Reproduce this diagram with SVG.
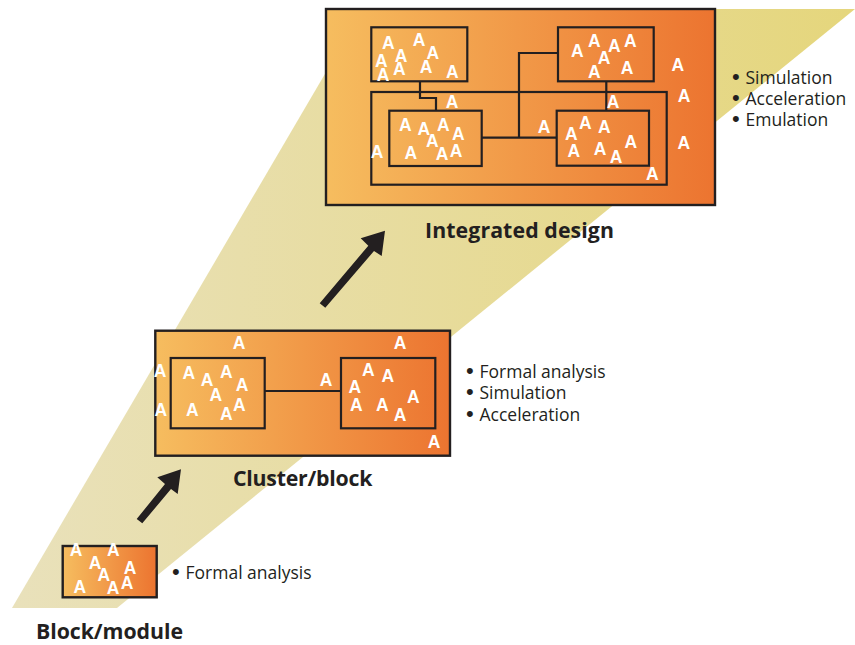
<svg xmlns="http://www.w3.org/2000/svg" width="855" height="645" viewBox="0 0 855 645">
<style>
.box{fill:none;stroke:#231f20;stroke-width:2.2}
.fill{fill:url(#o);stroke:#231f20;stroke-width:2.4}
.w{stroke:#231f20;stroke-width:2.2;fill:none}
.a{font:bold 17.5px "Liberation Sans",Arial,sans-serif;fill:#fff;text-anchor:middle}
.l{font:17.5px "Open Sans",sans-serif;fill:#231f20}
.bu{font:22px "Liberation Sans",Arial,sans-serif}
.t{font:bold 21.3px "Open Sans",sans-serif;fill:#231f20}
</style>
<defs>
<linearGradient id="o" x1="0" x2="1" y1="0" y2="0"><stop offset="0" stop-color="#f6bd5f"/><stop offset="1" stop-color="#ec7430"/></linearGradient>
<linearGradient id="b" x1="0" x2="1" y1="0" y2="0"><stop offset="0" stop-color="#e9e1bb"/><stop offset="1" stop-color="#e5d67c"/></linearGradient>
</defs>
<rect width="855" height="645" fill="#fff"/>
<polygon id="band" points="12,608 117,608 855,9 363,9" fill="url(#b)"/>
<g id="arrows" fill="#231f20">
<polygon points="136.700,519 142.300,523.300 171,489 177.700,494 181,469.300 157.300,477.300 165,484"/>
<polygon points="319.700,303.300 325.300,307.700 374,251 381.700,256 385,230.700 360.700,238.300 368.300,245.700"/>
</g>
<g id="block">
<rect class="fill" x="62.7" y="546" width="94" height="51.3"/>
<g class="a"><text x="76" y="555.7">A</text><text x="113.3" y="555.7">A</text><text x="95" y="569">A</text><text x="130" y="574">A</text><text x="103.7" y="580.7">A</text><text x="127" y="588.7">A</text><text x="113" y="594">A</text><text x="79.7" y="592.7">A</text></g>
<text class="l" y="579"><tspan class="bu" x="172">•</tspan><tspan x="185.500">Formal analysis</tspan></text>
<text class="t" x="36" y="639" textLength="147">Block/module</text>
</g>
<g id="cluster">
<rect class="fill" x="155.3" y="330.7" width="294.7" height="125"/>
<line class="w" x1="264.7" y1="391" x2="341" y2="391"/>
<rect class="box" x="170.7" y="358" width="94" height="70.3"/>
<rect class="box" x="341" y="358" width="94.3" height="70.3"/>
<g class="a"><text x="239" y="349.3">A</text><text x="400" y="349.3">A</text><text x="160" y="377.3">A</text><text x="160.7" y="416.3">A</text><text x="188.7" y="379.3">A</text><text x="207" y="386">A</text><text x="226.3" y="378.3">A</text><text x="242" y="391">A</text><text x="215.7" y="401.3">A</text><text x="192.3" y="416.3">A</text><text x="226.3" y="420.3">A</text><text x="239.3" y="411.3">A</text><text x="326" y="386">A</text><text x="368.3" y="376">A</text><text x="387.7" y="382">A</text><text x="354.7" y="393">A</text><text x="356.3" y="411.3">A</text><text x="382.3" y="411.3">A</text><text x="400" y="421">A</text><text x="413.3" y="403">A</text><text x="434" y="448">A</text></g>
<text class="l" y="378"><tspan class="bu" x="466">•</tspan><tspan x="479.500">Formal analysis</tspan></text>
<text class="l" y="399"><tspan class="bu" x="466">•</tspan><tspan x="479.500">Simulation</tspan></text>
<text class="l" y="421"><tspan class="bu" x="466">•</tspan><tspan x="479.500">Acceleration</tspan></text>
<text class="t" x="233" y="486" textLength="139.500">Cluster/block</text>
</g>
<g id="integrated">
<rect class="fill" x="326" y="9" width="389" height="196"/>
<g id="connectors">
<polyline class="w" points="420,81.300 420,98 436,98 436,110.700"/>
<polyline class="w" points="558,53 519,53 519,137.700"/>
<line class="w" x1="481.700" y1="137.700" x2="556.700" y2="137.700"/>
<line class="w" x1="606.300" y1="81.300" x2="606.300" y2="110.700"/>
</g>
<rect class="box" x="371.300" y="27.300" width="96" height="54"/>
<rect class="box" x="558" y="27.300" width="95.700" height="54"/>
<rect class="box" x="371.300" y="92" width="295.400" height="92.700"/>
<rect class="box" x="389.300" y="110.700" width="92.400" height="55.300"/>
<rect class="box" x="556.700" y="110.700" width="92.300" height="55"/>
<g class="a"><text x="388.300" y="49.300">A</text><text x="419" y="46">A</text><text x="432.700" y="59">A</text><text x="401" y="62">A</text><text x="381.300" y="67">A</text><text x="399.300" y="75.300">A</text><text x="426" y="73.300">A</text><text x="452.300" y="78.300">A</text><text x="383" y="81">A</text><text x="594.300" y="47">A</text><text x="577.300" y="57">A</text><text x="614.300" y="52">A</text><text x="630.300" y="47">A</text><text x="604" y="64">A</text><text x="594.300" y="78">A</text><text x="627" y="74">A</text><text x="677.700" y="70.700">A</text><text x="684" y="102">A</text><text x="683.700" y="149">A</text><text x="652.300" y="180">A</text><text x="613" y="107.700">A</text><text x="452" y="107.700">A</text><text x="544" y="133">A</text><text x="377" y="157.700">A</text><text x="405.300" y="130.700">A</text><text x="423.700" y="134.700">A</text><text x="443.300" y="130.700">A</text><text x="458.300" y="139.700">A</text><text x="432.300" y="147">A</text><text x="410.700" y="159">A</text><text x="442" y="160">A</text><text x="456" y="156.700">A</text><text x="585.300" y="129">A</text><text x="604.300" y="133">A</text><text x="571.300" y="139.700">A</text><text x="630.700" y="147.700">A</text><text x="573.700" y="157">A</text><text x="600" y="155.300">A</text><text x="616" y="163">A</text></g>
<text class="l" y="84"><tspan class="bu" x="732">•</tspan><tspan x="745.500">Simulation</tspan></text>
<text class="l" y="105"><tspan class="bu" x="732">•</tspan><tspan x="745.500">Acceleration</tspan></text>
<text class="l" y="126"><tspan class="bu" x="732">•</tspan><tspan x="745.500">Emulation</tspan></text>
<text class="t" x="425" y="238" textLength="189">Integrated design</text>
</g>
</svg>
